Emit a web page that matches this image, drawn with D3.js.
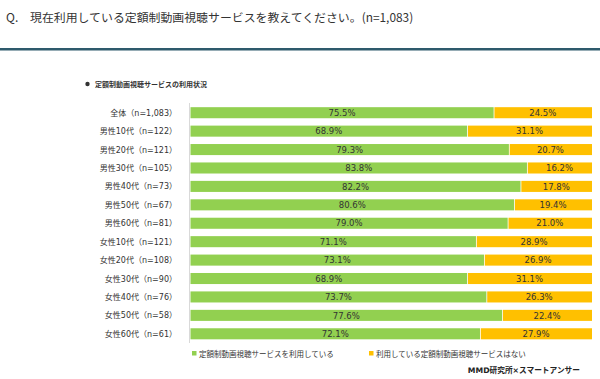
<!DOCTYPE html>
<html><head><meta charset="utf-8">
<script src="https://cdn.jsdelivr.net/npm/d3@7"></script>
<style>body{margin:0;background:#fff}svg{display:block}</style>
</head><body><svg id="c" width="600" height="379"></svg>
<script>
const categories = ["全体（n=1,083）","男性10代（n=122）","男性20代（n=121）","男性30代（n=105）","男性40代（n=73）","男性50代（n=67）","男性60代（n=81）","女性10代（n=121）","女性20代（n=108）","女性30代（n=90）","女性40代（n=76）","女性50代（n=58）","女性60代（n=61）"];
const using = [75.5,68.9,79.3,83.8,82.2,80.6,79.0,71.1,73.1,68.9,73.7,77.6,72.1];
const notUsing = [24.5,31.1,20.7,16.2,17.8,19.4,21.0,28.9,26.9,31.1,26.3,22.4,27.9];
const seriesNames = ["定額制動画視聴サービスを利用している","利用している定額制動画視聴サービスはない"];
const colors = ["#92D050","#FFC000"];

const svg = d3.select("#c");
const font = "'Noto Sans CJK JP','Noto Sans',sans-serif";
const vfont = "'DejaVu Sans','Noto Sans CJK JP',sans-serif";
svg.append("text").attr("x",6).attr("y",22).attr("font-family",font).attr("font-size",12).attr("fill","#333")
  .text("Q.");
svg.append("text").attr("x",30).attr("y",22).attr("font-family",font).attr("font-size",11.9).attr("fill","#333")
  .text("現在利用している定額制動画視聴サービスを教えてください。(n=1,083)");
svg.append("rect").attr("x",0).attr("y",48).attr("width",600).attr("height",2.5).attr("fill","#2E5A6C");
svg.append("circle").attr("cx",87.5).attr("cy",84).attr("r",2.2).attr("fill","#333");
svg.append("text").attr("x",95).attr("y",86.5).attr("font-family",font).attr("font-size",7).attr("font-weight","bold").attr("fill","#333")
  .text("定額制動画視聴サービスの利用状況");

const x = d3.scaleLinear().domain([0,100]).range([190.5,592]);
const y = d3.scaleBand().domain(categories).range([103.5,343]).paddingInner(0.4).paddingOuter(0.2);

svg.append("line").attr("x1",189.5).attr("x2",189.5).attr("y1",103).attr("y2",343).attr("stroke","#d9d9d9").attr("stroke-width",1);

const rows = svg.append("g").selectAll("g").data(categories).join("g");
rows.append("text").attr("x",177).attr("y",d=>y(d)+y.bandwidth()/2+3).attr("text-anchor","end")
  .attr("font-family",vfont).attr("font-size",8).attr("fill","#333").text(d=>d);
rows.append("rect").attr("x",x(0)).attr("y",d=>y(d)).attr("height",y.bandwidth())
  .attr("width",(d,i)=>x(using[i])-x(0)).attr("fill",colors[0]);
rows.append("rect").attr("x",(d,i)=>x(using[i])+0.8).attr("y",d=>y(d)).attr("height",y.bandwidth())
  .attr("width",(d,i)=>x(using[i]+notUsing[i])-x(using[i])-0.8).attr("fill",colors[1]);
rows.append("text").attr("x",(d,i)=>x(using[i]/2)).attr("y",d=>y(d)+y.bandwidth()/2+3.2).attr("text-anchor","middle")
  .attr("font-family",vfont).attr("font-size",8.5).attr("fill","#333").text((d,i)=>using[i].toFixed(1)+"%");
rows.append("text").attr("x",(d,i)=>x(using[i]+notUsing[i]/2)).attr("y",d=>y(d)+y.bandwidth()/2+3.2).attr("text-anchor","middle")
  .attr("font-family",vfont).attr("font-size",8.5).attr("fill","#333").text((d,i)=>notUsing[i].toFixed(1)+"%");

const legX = [192,369];
seriesNames.forEach((n,i)=>{
  svg.append("rect").attr("x",legX[i]).attr("y",351).attr("width",4.5).attr("height",4.5).attr("fill",colors[i]);
  svg.append("text").attr("x",legX[i]+7).attr("y",356.5).attr("font-family",font).attr("font-size",7.5).attr("fill","#333").text(n);
});
svg.append("text").attr("x",580).attr("y",373).attr("text-anchor","end").attr("font-family",vfont).attr("font-size",7.7)
  .attr("font-weight","bold").attr("fill","#222").text("MMD研究所×スマートアンサー");
</script></body></html>
